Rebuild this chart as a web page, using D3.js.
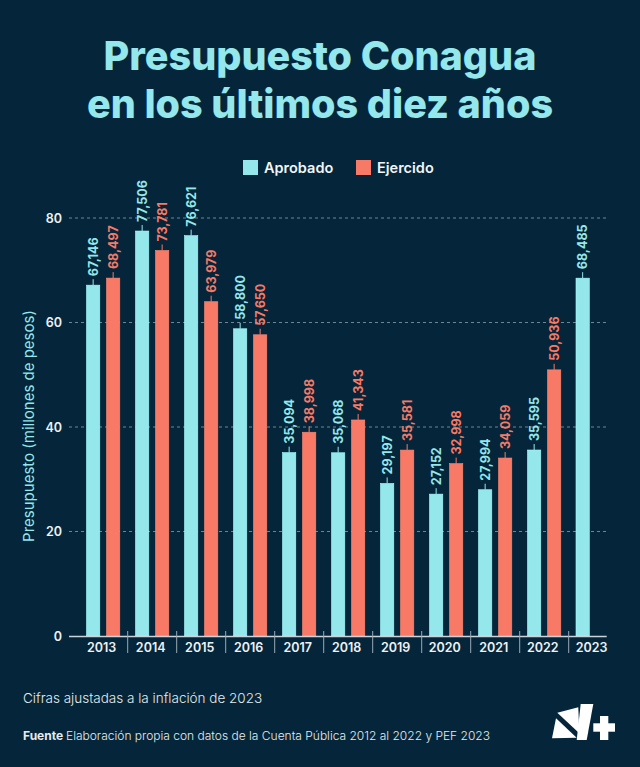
<!DOCTYPE html>
<html><head><meta charset="utf-8">
<script src="https://cdn.jsdelivr.net/npm/d3@7"></script>
<style>
html,body{margin:0;padding:0;background:#05263a;}
svg{display:block;font-family:Inter,"Noto Sans",sans-serif;}
</style></head>
<body>
<svg id="c" width="640" height="767"></svg>
<script>
const years = ["2013","2014","2015","2016","2017","2018","2019","2020","2021","2022","2023"];
const aprobado = [67146,77506,76621,58800,35094,35068,29197,27152,27994,35595,68485];
const ejercido = [68497,73781,63979,57650,38998,41343,35581,32998,34059,50936,null];
const yTicks = [0,20,40,60,80];
const seriesNames = ["Aprobado","Ejercido"];

const cyan = "#94e7eb", salmon = "#f87a66", bg = "#05263a";
const svg = d3.select("#c");
svg.append("rect").attr("width",640).attr("height",767).attr("fill",bg);

// Title
const title = svg.append("text").attr("text-anchor","middle").attr("fill",cyan)
  .attr("font-size",39.5).attr("font-weight",800);
title.append("tspan").attr("x",320).attr("y",70).text("Presupuesto Conagua");
title.append("tspan").attr("x",320).attr("y",118).text("en los últimos diez años");

// Legend
const legX = [243, 356];
seriesNames.forEach((n,i)=>{
  svg.append("rect").attr("x",legX[i]).attr("y",160).attr("width",15).attr("height",15)
    .attr("fill", i===0?cyan:salmon);
  svg.append("text").attr("x",legX[i]+21).attr("y",172.5).attr("fill","#f2f5f7")
    .attr("font-size",14.5).attr("font-weight",600).text(n);
});

const y = d3.scaleLinear().domain([0,80]).range([636,218]);
const x = d3.scaleBand().domain(years).range([78.7,617.7]).padding(0);
const gridL = 69, gridR = 606.7;

// gridlines
svg.append("g").selectAll("line").data(yTicks.filter(d=>d>0)).join("line")
  .attr("x1",gridL).attr("x2",gridR).attr("y1",d=>y(d)).attr("y2",d=>y(d))
  .attr("stroke","#7d909c").attr("stroke-width",0.9).attr("stroke-dasharray","3,3");

// y tick labels
svg.append("g").selectAll("text").data(yTicks).join("text")
  .attr("x",62).attr("y",d=>y(d)+4.5).attr("text-anchor","end")
  .attr("fill","#eef2f5").attr("font-size",12.5).attr("font-weight",600).text(d=>d);

// y axis title
svg.append("text").attr("transform","translate(34,426) rotate(-90)")
  .attr("text-anchor","middle").attr("fill",cyan).attr("font-size",15)
  .text("Presupuesto (millones de pesos)");

// bars
const bw = 13.3;
const offs = [7.8, 27.8];
const fmt = d3.format(",");
[aprobado, ejercido].forEach((arr,si)=>{
  const col = si===0?cyan:salmon;
  const g = svg.append("g");
  years.forEach((yr,i)=>{
    const v = arr[i];
    if(v==null) return;
    const bx = x(yr)+ (yr==="2023" ? 7.3 : offs[si]);
    const top = y(v/1000);
    g.append("rect").attr("x",bx).attr("y",top).attr("width",bw).attr("height",y(0)-top)
      .attr("fill",col).attr("stroke",d3.color(col).brighter(0.3)).attr("stroke-width",0.6);
    const cx = bx+bw/2;
    g.append("line").attr("x1",cx).attr("x2",cx).attr("y1",top).attr("y2",top-6)
      .attr("stroke",col).attr("stroke-width",1);
    g.append("text").attr("transform",`translate(${cx+4.5},${top-9}) rotate(-90)`)
      .attr("fill",col).attr("font-size",12.5).attr("font-weight",700).text(fmt(v));
  });
});

// x axis line
svg.append("line").attr("x1",gridL).attr("x2",gridR).attr("y1",636.5).attr("y2",636.5)
  .attr("stroke","#c9d3d9").attr("stroke-width",1.4);
// separators
svg.append("g").selectAll("line").data(years.slice(1)).join("line")
  .attr("x1",d=>x(d)).attr("x2",d=>x(d)).attr("y1",631).attr("y2",653)
  .attr("stroke","#9aa9b3").attr("stroke-width",1);
// year labels
svg.append("g").selectAll("text").data(years).join("text")
  .attr("x",d=>x(d)+x.bandwidth()/2-1.5).attr("y",652).attr("text-anchor","middle")
  .attr("fill","#eef2f5").attr("font-size",12.5).attr("font-weight",600).text(d=>d);

// footer
svg.append("text").attr("x",23).attr("y",703).attr("fill","#e6ecef").attr("font-size",13.5)
  .attr("font-weight",300).text("Cifras ajustadas a la inflación de 2023");
const f = svg.append("text").attr("x",23).attr("y",739.5).attr("fill","#e6ecef").attr("font-size",12);
f.append("tspan").attr("font-weight",700).text("Fuente ");
f.append("tspan").attr("font-weight",300).text("Elaboración propia con datos de la Cuenta Pública 2012 al 2022 y PEF 2023");

// logo
const logo = svg.append("g").attr("fill","#ffffff");
[
  [[557.3,712.7],[578.3,707.3],[579.3,733.3]],
  [[556,718.3],[576.7,737.7],[552,738.3]],
  [[580.7,704],[593.3,704],[586.7,740],[576.7,740]],
].forEach(p=>logo.append("path").attr("d","M"+p.map(q=>q.join(",")).join("L")+"Z"));
logo.append("rect").attr("x",593.3).attr("y",723.3).attr("width",21.7).attr("height",8.4);
logo.append("rect").attr("x",600).attr("y",716).attr("width",8.3).attr("height",24);
</script>
</body></html>
